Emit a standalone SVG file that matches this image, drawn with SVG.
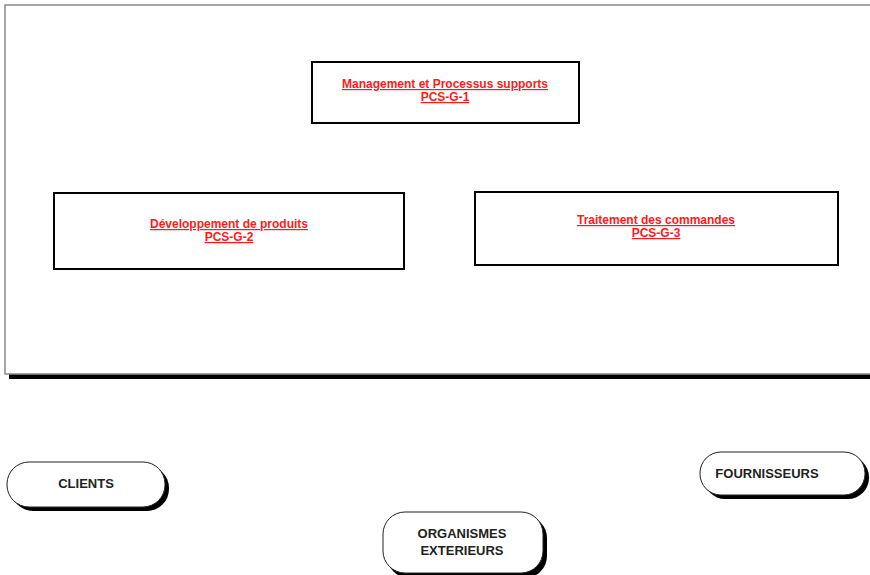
<svg xmlns="http://www.w3.org/2000/svg" width="870" height="575" viewBox="0 0 870 575">
  <style>
    .frame { fill: #ffffff; stroke: #8a8a8a; stroke-width: 1.5; }
    .proc { fill: #ffffff; stroke: #000000; stroke-width: 2; }
    .ptxt { font-family: "Liberation Sans", Arial, sans-serif; font-size: 12px; font-weight: bold; fill: #ff1a1a; text-anchor: middle; text-decoration: underline; }
    .pill { fill: #ffffff; stroke: #222222; stroke-width: 1; }
    .shadow { fill: #000000; }
    .etxt { font-family: "Liberation Sans", Arial, sans-serif; font-size: 13px; font-weight: bold; fill: #222222; text-anchor: middle; }
  </style>

  <!-- outer process frame with drop shadow -->
  <g id="frame">
    <rect x="9" y="9" width="870" height="370" class="shadow"/>
    <rect x="5" y="5" width="870" height="369" class="frame"/>
  </g>

  <g id="pcs-g-1">
    <rect x="312" y="62" width="267" height="61" class="proc"/>
    <text class="ptxt" x="445" y="88">Management et Processus supports</text>
    <text class="ptxt" x="445" y="101">PCS-G-1</text>
  </g>

  <g id="pcs-g-2">
    <rect x="54" y="193" width="350" height="76" class="proc"/>
    <text class="ptxt" x="229" y="228">Développement de produits</text>
    <text class="ptxt" x="229" y="241">PCS-G-2</text>
  </g>

  <g id="pcs-g-3">
    <rect x="475" y="192" width="363" height="73" class="proc"/>
    <text class="ptxt" x="656" y="224">Traitement des commandes</text>
    <text class="ptxt" x="656" y="237">PCS-G-3</text>
  </g>

  <g id="clients">
    <rect x="11" y="466" width="158" height="45" rx="22" class="shadow"/>
    <rect x="7" y="462" width="158" height="45" rx="22" class="pill"/>
    <text class="etxt" x="86" y="488">CLIENTS</text>
  </g>

  <g id="fournisseurs">
    <rect x="704" y="456" width="165" height="43" rx="21" class="shadow"/>
    <rect x="700" y="452" width="165" height="43" rx="21" class="pill"/>
    <text class="etxt" x="767" y="478">FOURNISSEURS</text>
  </g>

  <g id="organismes">
    <rect x="387" y="516" width="160" height="62" rx="22" class="shadow"/>
    <rect x="383" y="512" width="160" height="61" rx="22" class="pill"/>
    <text class="etxt" x="462" y="538">ORGANISMES</text>
    <text class="etxt" x="462" y="555">EXTERIEURS</text>
  </g>

  <g id="connectors"/>
</svg>
